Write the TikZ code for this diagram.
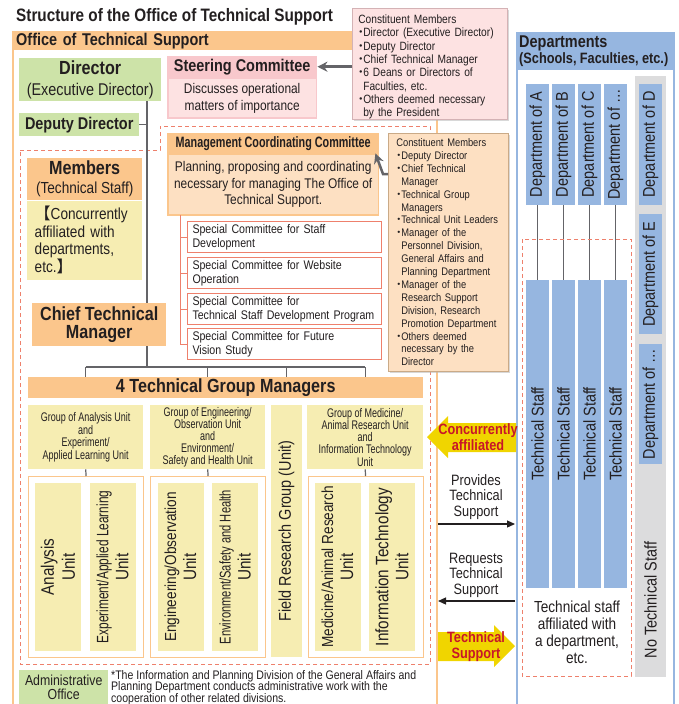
\documentclass[tikz,border=0pt]{standalone}
\usepackage{fontspec}
\setmainfont{Liberation Sans}[FakeStretch=0.85]
\newfontfamily\narrowfont{Liberation Sans}[FakeStretch=0.72]
\newfontfamily\cjk{Noto Sans CJK JP}
\usepackage{tikz}
\usetikzlibrary{positioning, arrows.meta, shadows}

\definecolor{ink}{RGB}{35,31,32}
\definecolor{orangehd}{RGB}{251,198,140}
\definecolor{orangelt}{RGB}{253,224,194}
\definecolor{pinkhd}{RGB}{248,200,204}
\definecolor{pinklt}{RGB}{253,226,226}
\definecolor{leafgreen}{RGB}{205,227,168}
\definecolor{paleyellow}{RGB}{246,237,178}
\definecolor{salmon}{RGB}{238,128,108}
\definecolor{deptblue}{RGB}{150,182,224}
\definecolor{bandgray}{RGB}{220,220,221}
\definecolor{linegray}{RGB}{100,100,104}
\definecolor{arrowyellow}{RGB}{240,213,0}
\definecolor{redtxt}{RGB}{200,22,40}

\newcommand{\fsz}[2]{\fontsize{#1}{#2}\selectfont}
\newcommand{\listdot}{\makebox[5pt]{\cjk ・}}
\newcommand{\listgap}{\hspace*{5pt}}

\tikzstyle{blockbase} = [rectangle, inner sep=0pt, anchor=north west, text centered, align=center]
\tikzstyle{greenbox} = [blockbase, fill=leafgreen]
\tikzstyle{ohead} = [blockbase, fill=orangehd]
\tikzstyle{obody} = [blockbase, fill=orangelt, draw=orangehd, line width=1.5pt]
\tikzstyle{phead} = [blockbase, fill=pinkhd]
\tikzstyle{pbody} = [blockbase, fill=pinklt, draw=pinkhd, line width=1.5pt]
\tikzstyle{yelbox} = [blockbase, fill=paleyellow]
\tikzstyle{unitframe} = [blockbase, fill=white, draw=orangehd, line width=1.2pt]
\tikzstyle{subcom} = [blockbase, fill=white, draw=salmon, line width=1pt, align=left, text width=184pt, inner xsep=5pt, minimum height=31pt, font=\fsz{12.5}{14}]
\tikzstyle{memberlist} = [blockbase, align=left, line width=0.6pt, drop shadow={shadow xshift=1.5pt, shadow yshift=-1.5pt, fill=black!30}]
\tikzstyle{deptcol} = [rectangle, inner sep=0pt, rotate=90, anchor=center, fill=deptblue, minimum height=23pt, font=\fsz{17}{19}]
\tikzstyle{unitcol} = [rectangle, inner sep=0pt, rotate=90, anchor=center, fill=paleyellow, minimum width=168pt, minimum height=46pt, align=center, font=\fsz{18}{20}]
\tikzstyle{gline} = [draw=linegray, line width=1.2pt]
\tikzstyle{sline} = [draw=salmon, line width=1pt]
\tikzstyle{dashbox} = [draw=salmon, line width=0.9pt, dash pattern=on 4pt off 3pt]
\tikzstyle{arrow} = [line width=1.2pt, draw=ink, -{Triangle[length=8pt,width=7pt]}]
\tikzstyle{bigarrow} = [line width=2.5pt, draw=linegray, -{Stealth[length=10pt,width=10pt]}]
\tikzstyle{yarrow} = [fill=arrowyellow]
\tikzstyle{redlabel} = [anchor=center, inner sep=0pt, align=center, text=redtxt, font=\fsz{15}{16}\bfseries]
\tikzstyle{midlabel} = [anchor=center, inner sep=0pt, align=center, font=\fsz{15}{15.5}]

\begin{document}
\begin{tikzpicture}[x=1pt, y=-1pt, every node/.append style={text=ink}]
\clip (0,0) rectangle (678,704);

\node (title) [anchor=west, inner sep=0pt, font=\fsz{18}{20}\bfseries] at (16,17) {Structure of the Office of Technical Support};

% Office of Technical Support
\draw [draw=orangehd, line width=2pt, fill=white] (13,32) rectangle (437,715);
\node (offhead) [ohead, minimum height=18pt, text width=418pt, align=left, inner xsep=3pt, font=\fsz{17}{18}\bfseries] at (13,32) {Office of Technical Support};
\draw [dashbox] (20,150) -- (160,150) -- (160,126) -- (430,126) -- (430,664) -- (20,664) -- cycle;

\node (dir) [greenbox, minimum width=142pt, minimum height=43pt, font=\fsz{17}{21}] at (19,58) {{\fsz{19}{21}\bfseries Director}\\(Executive Director)};
\node (dep) [greenbox, minimum width=120pt, minimum height=23pt, font=\fsz{17}{19}\bfseries] at (19,113) {Deputy Director};

\node (sthead) [phead, minimum width=150pt, minimum height=21pt, font=\fsz{17}{19}\bfseries] at (167,56) {Steering Committee};
\node (stbody) [pbody, below=0pt of sthead, minimum width=148.5pt, minimum height=40pt, font=\fsz{14}{17}] {Discusses operational\\matters of importance};

\node (mcchead) [ohead, minimum width=212pt, minimum height=20pt, font=\narrowfont\fsz{15}{17}\bfseries] at (167,133) {Management Coordinating Committee};
\node (mccbody) [obody, below=0pt of mcchead, minimum width=210.5pt, minimum height=61pt, font=\fsz{14}{16.5}] {Planning, proposing and coordinating\\necessary for managing The Office of\\Technical Support.};

\node (sc1) [subcom] at (187,221) {Special Committee for Staff\\Development};
\node (sc2) [subcom, below=4pt of sc1] {Special Committee for Website\\Operation};
\node (sc3) [subcom, below=4pt of sc2] {Special Committee for\\Technical Staff Development Program};
\node (sc4) [subcom, below=3pt of sc3] {Special Committee for Future\\Vision Study};
\coordinate (treetop) at (180,215);
\draw [sline] (treetop) |- (sc4.west);
\foreach \sc in {sc1,sc2,sc3}
  \draw [sline] (\sc.west) -- (\sc.west -| treetop);

\node (memhead) [ohead, minimum width=115pt, minimum height=42pt, font=\fsz{16}{19}] at (27,158) {{\fsz{19}{21}\bfseries Members}\\(Technical Staff)};
\node (membody) [yelbox, below=0pt of memhead, minimum width=115pt, minimum height=79pt, text width=100pt, inner xsep=7.5pt, align=left, font=\fsz{16}{17.5}] {{\cjk 【}Concurrently\\affiliated with\\departments,\\etc.{\cjk 】}};

\node (chief) [ohead, minimum width=134pt, minimum height=43pt, font=\fsz{19}{18}\bfseries] at (32,303) {Chief Technical\\Manager};

\coordinate (spine) at (147,0);
\coordinate (hbar) at (0,367);
\draw [gline] (dir.south -| spine) -- (chief.north -| spine);
\draw [gline] (dep.east) -- (dep.east -| spine);
\draw [gline] (chief.south -| spine) -- (spine |- hbar);

\node (tgm) [ohead, minimum width=395pt, minimum height=21pt, font=\fsz{19}{20}\bfseries] at (28,377) {4 Technical Group Managers};

% groups and units
\node (g1) [yelbox, minimum width=115pt, minimum height=64pt, font=\narrowfont\fsz{12.5}{12.4}] at (28,405) {Group of Analysis Unit\\and\\Experiment/\\Applied Learning Unit};
\node (g2) [yelbox, minimum width=115pt, minimum height=64pt, font=\narrowfont\fsz{12.5}{12.2}] at (150,405) {Group of Engineering/\\Observation Unit\\and\\Environment/\\Safety and Health Unit};
\node (g4) [yelbox, minimum width=116pt, minimum height=64pt, font=\narrowfont\fsz{12.5}{12.2}] at (307,405) {Group of Medicine/\\Animal Research Unit\\and\\Information Technology\\Unit};
\node (frg) [unitcol, minimum width=252pt, minimum height=31pt, font=\fsz{17}{19}] at (286.5,531) {Field Research Group (Unit)};

\draw [gline] (g1 |- hbar) -- (g4 |- hbar);
\foreach \g in {g1,g2,frg,g4}
  \draw [gline] (\g |- hbar) -- (\g |- tgm.north);

\node (c1) [unitframe, minimum width=115pt, minimum height=181pt] at (28,476) {};
\node (c2) [unitframe, minimum width=115pt, minimum height=181pt] at (150,476) {};
\node (c4) [unitframe, minimum width=115pt, minimum height=181pt] at (307.5,476) {};
\draw [gline] (g1.south) -- (c1.north);
\draw [gline] (g2.south) -- (c2.north);
\draw [gline] (g4.south) -- (c4.north);

\node (ua) [unitcol, font=\fsz{18}{21}] at (58,567) {Analysis\\Unit};
\node (ub) [unitcol] at (112.5,567) {{\narrowfont\fsz{16.5}{20}Experiment/Applied Learning}\\Unit};
\node (uc) [unitcol] at (180.5,567) {{\fsz{16}{20}Engineering/Observation}\\Unit};
\node (ud) [unitcol] at (235,567) {{\narrowfont\fsz{15.5}{20}Environment/Safety and Health}\\Unit};
\node (ue) [unitcol] at (337.5,567) {{\fsz{16}{20}Medicine/Animal Research}\\Unit};
\node (uf) [unitcol] at (392,567) {Information Technology\\Unit};

\node (admin) [greenbox, minimum width=89pt, minimum height=34pt, font=\fsz{14.5}{14}] at (19,670) {Administrative\\Office};
\node (note) [anchor=north west, inner sep=0pt, align=left, font=\fsz{12.4}{11.8}] at (111,670) {*The Information and Planning Division of the General Affairs and\\Planning Department conducts administrative work with the\\cooperation of other related divisions.};

% Departments
\node (depts) [blockbase, minimum width=157pt, minimum height=690pt, draw=deptblue, line width=1.5pt, fill=white] at (516,32) {};
\node (dephead) [blockbase, fill=deptblue, minimum height=38pt, text width=151pt, inner xsep=3pt, align=left] at (516,32) {{\fsz{17}{16}\bfseries Departments}\\{\fsz{15}{16}\bfseries (Schools, Faculties, etc.)}};
\node (noband) [blockbase, fill=bandgray, minimum width=31pt, minimum height=601pt] at (635,76) {};

\node (da) [deptcol, minimum width=121pt] at (537.5,144.5) {Department of A};
\node (db) [deptcol, minimum width=121pt] at (563.5,144.5) {Department of B};
\node (dc) [deptcol, minimum width=121pt] at (589.5,144.5) {Department of C};
\node (dx) [deptcol, minimum width=121pt] at (615.5,144.5) {Department of …};
\node (dd) [deptcol, minimum width=121pt] at (650.5,144.5) {Department of D};
\node (de) [deptcol, minimum width=120pt] at (650.5,274) {Department of E};
\node (dz) [deptcol, minimum width=120pt] at (650.5,404) {Department of …};

\node (ta) [deptcol, minimum width=308pt] at (537.5,434) {Technical Staff};
\node (tb) [deptcol, minimum width=308pt] at (563.5,434) {Technical Staff};
\node (tc) [deptcol, minimum width=308pt] at (589.5,434) {Technical Staff};
\node (tx) [deptcol, minimum width=308pt] at (615.5,434) {Technical Staff};
\foreach \d/\t in {da/ta,db/tb,dc/tc,dx/tx}
  \draw [gline, line width=1pt] (\d.west) -- (\t.east);

\draw [dashbox] (522,239) rectangle (631,676);
\node (affil) [anchor=center, inner sep=0pt, align=center, font=\fsz{16}{17}] at (577,632.5) {Technical staff\\affiliated with\\a department,\\etc.};
\node (nostaff) [rotate=90, anchor=center, inner sep=0pt, font=\fsz{17}{19}] at (650.5,600) {No Technical Staff};

% between the two
\fill [yarrow] (427,437) -- (448,416) -- (448,423) -- (516,423) -- (516,452) -- (448,452) -- (448,458) -- cycle;
\node (concur) [redlabel] at (478,437) {Concurrently\\affiliated};

\node (provides) [midlabel] at (476,497) {Provides\\Technical\\Support};
\coordinate (provL) at (438,524);
\coordinate (provR) at (515,524);
\draw [arrow] (provL) -- (provR);

\node (requests) [midlabel] at (476,575) {Requests\\Technical\\Support};
\coordinate (reqL) at (438,601);
\coordinate (reqR) at (515,601);
\draw [arrow] (reqR) -- (reqL);

\fill [yarrow] (515,646) -- (494,625) -- (494,632) -- (438,632) -- (438,661) -- (494,661) -- (494,667) -- cycle;
\node (techsup) [redlabel] at (476,646.5) {Technical\\Support};

% constituent members
\node (stmem) [memberlist, fill=pinklt, draw=pinkhd!70!gray, minimum width=155pt, minimum height=111pt, text width=143pt, inner xsep=6pt, font=\fsz{12}{13.3}] at (352,8) {\rule{0pt}{15pt}Constituent Members\\ \listdot Director (Executive Director)\\ \listdot Deputy Director\\ \listdot Chief Technical Manager\\ \listdot 6 Deans or Directors of\\ \listgap Faculties, etc.\\ \listdot Others deemed necessary\\ \listgap by the President};
\draw [bigarrow] (stmem.west |- sthead.east) -- (sthead.east);

\node (mccmem) [memberlist, fill=orangelt, draw=orangehd!60!gray, minimum width=120pt, minimum height=238pt, text width=104pt, inner xsep=7pt, font=\fsz{11}{12.9}] at (388,133) {Constituent Members\\ \listdot Deputy Director\\ \listdot Chief Technical\\ \listgap Manager\\ \listdot Technical Group\\ \listgap Managers\\ \listdot Technical Unit Leaders\\ \listdot Manager of the\\ \listgap Personnel Division,\\ \listgap General Affairs and\\ \listgap Planning Department\\ \listdot Manager of the\\ \listgap Research Support\\ \listgap Division, Research\\ \listgap Promotion Department\\ \listdot Others deemed\\ \listgap necessary by the\\ \listgap Director};
\draw [bigarrow] ([yshift=-41pt]mccmem.north west) -- ++(-5,0) -- ([xshift=-4pt]mcchead.south east);
\end{tikzpicture}
\end{document}
